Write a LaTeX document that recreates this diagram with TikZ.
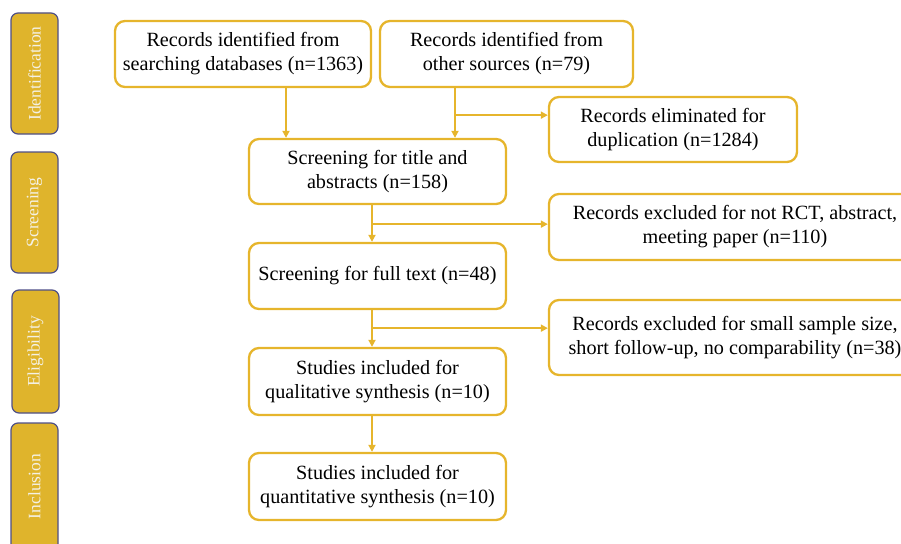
\documentclass[tikz,border=0pt]{standalone}
\usepackage{fontspec}
\setmainfont{Liberation Serif}
\usetikzlibrary{calc,arrows.meta}
\definecolor{gold}{HTML}{E6B52C}
\definecolor{barfill}{HTML}{DFB42C}
\definecolor{barline}{HTML}{4E4F88}
\definecolor{bartext}{HTML}{F4F1E4}
\tikzset{
  box/.style={draw=gold, line width=2.3pt, rounded corners=10pt, fill=white, align=center,
    font=\fontsize{20.2}{24}\selectfont, inner sep=0pt},
  bar/.style={draw=barline, line width=1.2pt, rounded corners=7pt, fill=barfill,
    minimum width=47pt, inner sep=0pt},
  bartxt/.style={text=bartext, rotate=90, font=\fontsize{17.5}{20}\selectfont},
  arr/.style={draw=gold, line width=2pt, -{Triangle[length=7pt,width=7pt]}},
  ln/.style={draw=gold, line width=2pt}
}
\begin{document}
\begin{tikzpicture}[x=1pt,y=-1pt]
\useasboundingbox (0,0) rectangle (901,543);
\clip (0,0) rectangle (901,543);
% phase bars
\node[bar, minimum height=121pt] (b1) at (34.5,73.5) {};
\node[bartxt] at (b1) {Identification};
\node[bar, minimum height=121pt] (b2) at (34.5,212.5) {};
\node[bartxt] at (b2) {Screening};
\node[bar, minimum height=123pt] (b3) at (35.5,351.5) {};
\node[bartxt] at (b3) {Eligibility};
\node[bar, minimum height=137pt] (b4) at (34.5,491.5) {};
\node[bartxt] at ($(b4)+(0,-5)$) {Inclusion};
% boxes
\node[box, minimum width=256pt, minimum height=66pt] (A) at (243,54) {Records identified from\\searching databases (n=1363)};
\node[box, minimum width=253pt, minimum height=66pt] (B) at (506.5,54) {Records identified from\\other sources (n=79)};
\node[box, minimum width=248pt, minimum height=65pt] (C) at (673,129.5) {Records eliminated for\\duplication (n=1284)};
\node[box, minimum width=257pt, minimum height=65pt] (D) at (377.5,171.5) {Screening for title and\\abstracts (n=158)};
\node[box, minimum width=372pt, minimum height=66pt] (E) at (735,227) {Records excluded for not RCT, abstract,\\meeting paper (n=110)};
\node[box, minimum width=257pt, minimum height=66pt] (F) at (377.5,276) {Screening for full text (n=48)};
\node[box, minimum width=372pt, minimum height=75pt] (G) at (735,337.5) {Records excluded for small sample size,\\short follow-up, no comparability (n=38)};
\node[box, minimum width=257pt, minimum height=67pt] (H) at (377.5,381.5) {Studies included for\\qualitative synthesis (n=10)};
\node[box, minimum width=257pt, minimum height=67pt] (I) at (377.5,486.5) {Studies included for\\quantitative synthesis (n=10)};
% connectors
\coordinate (a1) at ($(A.south)+(43,0)$);
\draw[arr] (a1) -- (a1 |- D.north);
\coordinate (b1s) at ($(B.south)+(-51.5,0)$);
\draw[arr] (b1s) -- (b1s |- D.north);
\coordinate (br1) at ($(b1s)+(0,27)$);
\draw[arr] (br1) -- (br1 -| C.west);
\coordinate (d1) at ($(D.south)+(-5.5,0)$);
\draw[arr] (d1) -- (d1 |- F.north);
\coordinate (br2) at ($(d1)+(0,19)$);
\draw[arr] (br2) -- (br2 -| E.west);
\coordinate (f1) at ($(F.south)+(-5.5,0)$);
\draw[arr] (f1) -- (f1 |- H.north);
\coordinate (br3) at ($(f1)+(0,18)$);
\draw[arr] (br3) -- (br3 -| G.west);
\coordinate (h1) at ($(H.south)+(-5.5,0)$);
\draw[arr] (h1) -- (h1 |- I.north);
\end{tikzpicture}
\end{document}
